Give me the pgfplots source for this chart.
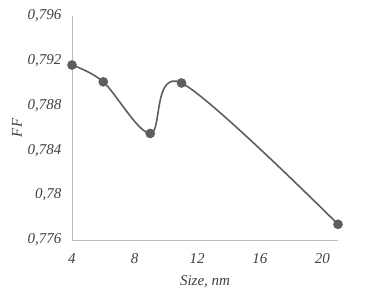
\documentclass[border=0pt]{standalone}
\usepackage{pgfplots}
\pgfplotsset{compat=1.18}
\usepackage{fontspec}
\setmainfont{Liberation Serif}
\begin{document}
\begin{tikzpicture}
\begin{axis}[
  scale only axis,
  width=266pt, height=224.3pt,
  xmin=4, xmax=21, ymin=0.776, ymax=0.796,
  xtick={4,8,12,16,20},
  ytick={0.776,0.78,0.784,0.788,0.792,0.796},
  axis x line*=bottom, axis y line*=left,
  axis line style={draw=black!27, line width=0.9pt, -},
  major tick length=0pt,
  tick style={draw=none},
  /pgf/number format/.cd, use comma, fixed, precision=3, assume math mode=true,
  /pgfplots/.cd,
  ticklabel style={font=\fontsize{15}{16}\selectfont\itshape, text=black!75},
  yticklabel style={anchor=east, xshift=-7pt},
  xticklabel style={anchor=north, yshift=-10pt},
  xlabel={Size, nm}, ylabel={FF},
  label style={font=\fontsize{15}{16}\selectfont\itshape, text=black!75},
  xlabel style={at={(axis description cs:0.5,0)}, anchor=center, yshift=-42pt},
  ylabel style={at={(axis description cs:0,0.5)}, anchor=center, yshift=55pt},
  clip=false,
]
\addplot[color=black!63, line width=1.6pt, smooth, tension=0.55,
  mark=*, mark size=4pt, mark options={fill=black!63, draw=black!63}]
  coordinates {(4,0.7916) (6,0.7901) (9,0.7855) (11,0.7900) (21,0.7774)};
\coordinate (O) at (rel axis cs:0,0);
\end{axis}
\pgfresetboundingbox
\path[use as bounding box] ([xshift=-72pt,yshift=-52pt]O) rectangle ([xshift=293pt,yshift=240pt]O);
\end{tikzpicture}
\end{document}
